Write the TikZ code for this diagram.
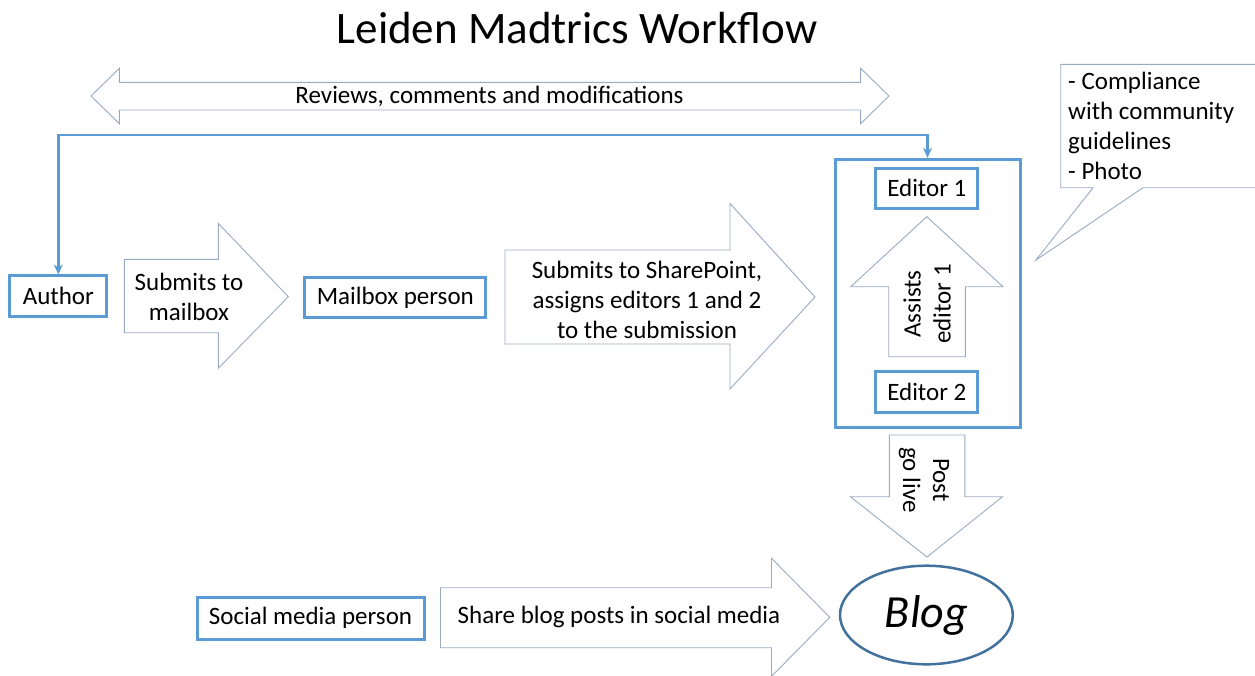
\documentclass[tikz,border=0pt]{standalone}
\usepackage{fontspec}
\setmainfont{Carlito}
\usetikzlibrary{arrows.meta,shapes.geometric}
\definecolor{boxblue}{HTML}{5B9BD5}
\definecolor{arrowgray}{HTML}{9AAAC0}
\definecolor{ellblue}{HTML}{41719C}
\begin{document}
\begin{tikzpicture}[x=1pt,y=-1pt,
  txt/.style={font=\fontsize{25}{30}\selectfont, align=center, inner sep=0pt},
  bluebox/.style={draw=boxblue, line width=3pt, fill=white, inner sep=0pt, font=\fontsize{25}{30}\selectfont},
  blockarrow/.style={draw=arrowgray, line width=0.9pt, fill=white, line join=miter},
  conn/.style={draw=boxblue, line width=2.5pt, {Stealth[length=10pt,width=9pt]}-{Stealth[length=10pt,width=9pt]}}
]
\useasboundingbox (0,0) rectangle (1255,675);

% title
\node[font=\fontsize{45}{54}\selectfont, inner sep=0pt] (title) at (577,28) {Leiden Madtrics Workflow};

% top double arrow
\draw[blockarrow] (91,96) -- (119.4,68.3) -- (119.4,82.3) -- (860.6,82.3) -- (860.6,68.3) -- (889,96)
  -- (860.6,123.7) -- (860.6,110) -- (119.4,110) -- (119.4,123.7) -- cycle;
\node[txt] (reviews) at (489.5,96) {Reviews, comments and modifications};

% boxes
\node[bluebox, minimum width=96.7pt, minimum height=40.7pt] (author) at (58.3,296.3) {Author};
\node[bluebox, minimum width=180.7pt, minimum height=40.4pt] (mailbox) at (395.3,297.5) {Mailbox person};
\node[draw=boxblue, line width=3pt, minimum width=185pt, minimum height=268pt, inner sep=0pt] (editors) at (927.5,293.3) {};
\node[bluebox, minimum width=101.7pt, minimum height=40pt] (ed1) at (926.8,188.3) {Editor 1};
\node[bluebox, minimum width=101.7pt, minimum height=40.6pt] (ed2) at (926.8,392) {Editor 2};
\node[bluebox, minimum width=227pt, minimum height=42pt] (social) at (310.5,618) {Social media person};

% connector author <-> editors
\coordinate (topline) at (0,135);
\draw[conn] (author.north) |- (topline -| editors.north) -- (editors.north);

% submits to mailbox arrow
\draw[blockarrow] (124.3,259.3) -- (218.3,259.3) -- (218.3,223.3) -- (288.3,296.7) -- (218.3,368.3)
  -- (218.3,332.7) -- (124.3,332.7) -- cycle;
\node[txt] (submail) at (189,297) {Submits to\\mailbox};

% submits to sharepoint arrow
\draw[blockarrow] (505,250) -- (730,250) -- (730,203.5) -- (815,297) -- (730,389) -- (730,344) -- (505,344) -- cycle;
\node[txt] (subsp) at (647,300) {Submits to SharePoint,\\assigns editors 1 and 2\\to the submission};

% assists up arrow
\draw[blockarrow] (926.8,216.7) -- (1003,286.7) -- (965.3,286.7) -- (965.3,356.7) -- (888.7,356.7)
  -- (888.7,286.7) -- (850.7,286.7) -- cycle;
\node[txt, rotate=90] (assists) at (927,304) {Assists\\editor 1};

% post go live down arrow
\draw[blockarrow] (889.4,435) -- (964.8,435) -- (964.8,496.7) -- (1002.5,496.7) -- (927,557)
  -- (850.3,496.7) -- (889.4,496.7) -- cycle;
\node[txt, rotate=-90] (golive) at (924,480) {Post\\go live};

% callout
\draw[blockarrow] (1258,187.7) -- (1143,187.7) -- (1036,260) -- (1093,187.7) -- (1060.7,187.7)
  -- (1060.7,64.3) -- (1258,64.3);
\node[txt, align=left, anchor=north west] (callout) at (1068,72) {- Compliance\\with community\\guidelines\\- Photo};

% blog
\node[draw=ellblue, line width=2.5pt, ellipse, minimum width=172.8pt, minimum height=98.6pt, inner sep=0pt,
  font=\fontsize{46}{50}\selectfont\itshape] (blog) at (926.4,615) {Blog};

% share arrow
\draw[blockarrow] (440.5,587.7) -- (771.5,587.7) -- (771.5,558.3) -- (829.8,617.3) -- (771.5,676.3)
  -- (771.5,647.7) -- (440.5,647.7) -- cycle;
\node[txt] (share) at (619,617) {Share blog posts in social media};
\end{tikzpicture}
\end{document}
